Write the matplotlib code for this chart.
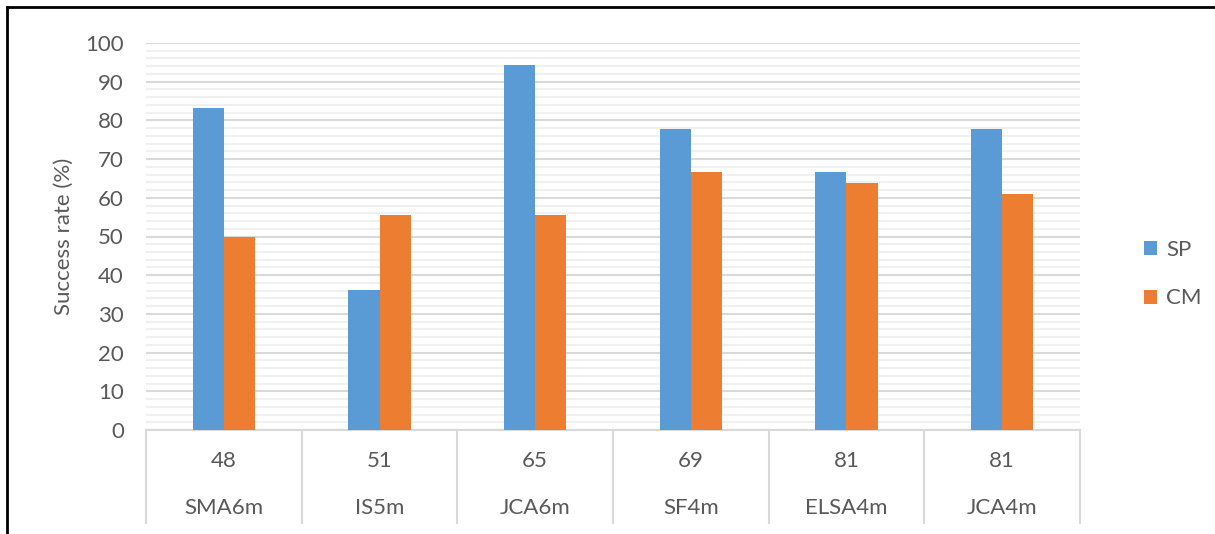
import matplotlib
matplotlib.use("Agg")
import matplotlib.pyplot as plt
import numpy as np
from matplotlib.lines import Line2D

plt.rcParams['font.family'] = ['Lato', 'DejaVu Sans']

# data for each test case
names = ["SMA6m", "IS5m", "JCA6m", "SF4m", "ELSA4m", "JCA4m"]
counts = ["48", "51", "65", "69", "81", "81"]
sp_rate = [83.3, 36.1, 94.4, 77.8, 66.7, 77.8]
cm_rate = [50.0, 55.6, 55.6, 66.7, 63.9, 61.1]

TEXT = '#595959'
GRID = '#d9d9d9'
MINOR = '#f0f0f0'
FS = 16

fig = plt.figure(figsize=(12.15, 5.34), dpi=100)
ax = fig.add_axes([146/1215, 1 - 430/534, (1080 - 146)/1215, (430 - 43)/534])

x = np.arange(len(names))
w = 0.2
ax.bar(x - w/2, sp_rate, w, color='#5B9BD5', label='SP', zorder=3)
ax.bar(x + w/2, cm_rate, w, color='#ED7D31', label='CM', zorder=3)

ax.set_xlim(-0.5, len(names) - 0.5)
ax.set_ylim(0, 100)
ax.set_yticks(np.arange(0, 101, 10))
ax.set_yticks(np.arange(0, 101, 2), minor=True)
ax.grid(axis='y', which='major', color=GRID, linewidth=1.5, zorder=1)
ax.grid(axis='y', which='minor', color=MINOR, linewidth=1.5, zorder=0)
ax.tick_params(axis='y', which='both', length=0, labelsize=FS, labelcolor=TEXT, pad=16)
ax.set_xticks([])
for s in ['top', 'right', 'left']:
    ax.spines[s].set_visible(False)
ax.spines['bottom'].set_color(GRID)
ax.spines['bottom'].set_linewidth(1.5)
ax.set_ylabel('Success rate (%)', fontsize=FS, color=TEXT, labelpad=8)

# two-level category axis drawn below the plot
tr = ax.get_xaxis_transform()
for b in np.arange(-0.5, len(names), 1.0):
    ax.add_line(Line2D([b, b], [0, -0.24], transform=tr, color=GRID,
                       linewidth=1.5, clip_on=False))
for i in range(len(names)):
    ax.text(x[i], -0.08, counts[i], transform=tr, ha='center', va='center',
            fontsize=FS, color=TEXT)
    ax.text(x[i], -0.2016, names[i], transform=tr, ha='center', va='center',
            fontsize=FS, color=TEXT)

leg = ax.legend(loc='center left', bbox_to_anchor=(1124/1215, 1 - 274/534),
                bbox_transform=fig.transFigure, frameon=False, fontsize=FS,
                handlelength=0.6, handleheight=0.6, handletextpad=0.4,
                labelspacing=1.3)
for t in leg.get_texts():
    t.set_color(TEXT)

# outer frame (left and top edges)
fig.add_artist(Line2D([7/1215, 7/1215], [0, 1 - 7/534], transform=fig.transFigure,
                      color='black', linewidth=2))
fig.add_artist(Line2D([7/1215, 1], [1 - 7/534, 1 - 7/534], transform=fig.transFigure,
                      color='black', linewidth=2))

fig.savefig('out.png', dpi=100)
